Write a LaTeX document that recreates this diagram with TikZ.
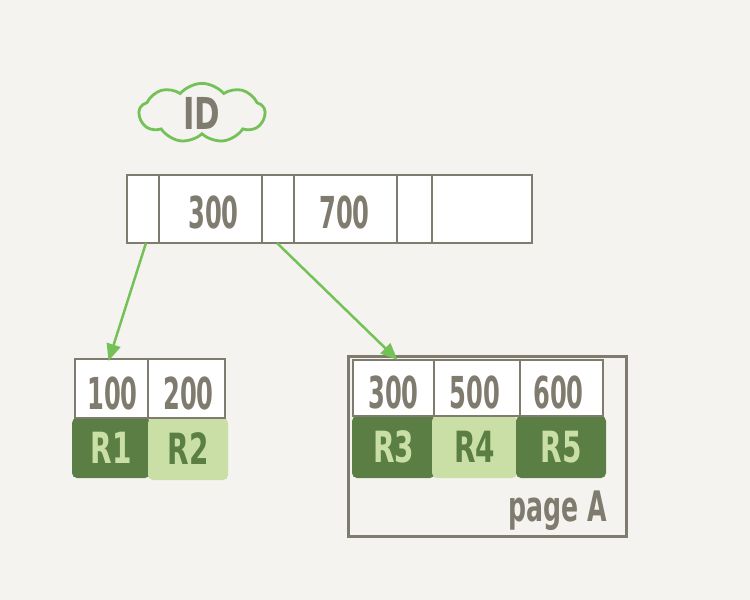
\documentclass[tikz,border=0pt]{standalone}
\usepackage{fontspec}
\setmainfont{DejaVu Sans}
\usetikzlibrary{arrows.meta,shapes.symbols,calc}
\definecolor{bg}{HTML}{F4F3EF}
\definecolor{ln}{HTML}{7F7B6E}
\definecolor{arrg}{HTML}{74C257}
\definecolor{dkg}{HTML}{5B7E45}
\definecolor{ltg}{HTML}{C9DFA5}
\newcommand{\hw}[2][0.62]{\scalebox{#1}[1]{#2}}
\tikzset{
  cell/.style={draw=ln, line width=2.8pt, fill=white, inner sep=0pt, outer sep=0pt, anchor=north west, rectangle},
  num/.style={text=ln, font=\fontsize{44}{44}\selectfont\bfseries, inner sep=0pt},
  rdark/.style={fill=dkg, rounded corners=5pt, inner sep=0pt, outer sep=0pt, anchor=north west, rectangle, text=ltg, font=\fontsize{43}{43}\selectfont\bfseries},
  rlight/.style={fill=ltg, rounded corners=5pt, inner sep=0pt, outer sep=0pt, anchor=north west, rectangle, text=dkg, font=\fontsize{43}{43}\selectfont\bfseries},
  arr/.style={draw=arrg, line width=2.5pt, -{Triangle[length=17pt,width=14pt]}},
}
\begin{document}
\begin{tikzpicture}[x=1pt,y=-1pt]
\fill[bg] (0,0) rectangle (750,600);
\useasboundingbox (0,0) rectangle (750,600);
% ID cloud
\node[cloud, cloud puffs=9, cloud puff arc=100, aspect=2.3, draw=arrg, line width=2.8pt, minimum width=126pt, minimum height=58pt, text=ln, font=\fontsize{44}{44}\selectfont\bfseries, inner sep=0pt] (id) at (202,113) {\hw[0.7]{ID}};
% top index node
\node[cell, minimum width=32pt, minimum height=68pt] (t1) at (127,175) {};
\node[cell, minimum width=103pt, minimum height=68pt] (t2) at (159,175) {};
\node[cell, minimum width=32pt, minimum height=68pt] (t3) at (262,175) {};
\node[cell, minimum width=103pt, minimum height=68pt] (t4) at (294,175) {};
\node[cell, minimum width=35pt, minimum height=68pt] (t5) at (397,175) {};
\node[cell, minimum width=100pt, minimum height=68pt] (t6) at (432,175) {};
\node[num] (n300) at ($(t2.center)+(3,3)$) {\hw[0.55]{300}};
\node[num] (n700) at ($(t4.center)+(-1,3)$) {\hw[0.55]{700}};
% left leaf
\node[rdark, minimum width=78pt, minimum height=60pt] (r1) at (72,418) {\hw[0.65]{R1}};
\node[rlight, minimum width=80pt, minimum height=62pt] (r2) at (148,418) {\hw[0.65]{R2}};
\node[cell, minimum width=73pt, minimum height=59pt] (l1) at (75,359) {};
\node[cell, minimum width=77pt, minimum height=59pt] (l2) at (148,359) {};
\node[num] (n100) at ($(l1.center)+(1,5)$) {\hw[0.55]{100}};
\node[num] (n200) at ($(l2.center)+(2,5)$) {\hw[0.55]{200}};
% page A
\node[draw=ln, line width=2.8pt, minimum width=278pt, minimum height=180pt, inner sep=0pt, anchor=north west, rectangle] (pg) at (347,355) {};
\node[rdark, minimum width=83pt, minimum height=62pt] (r3) at (352,416) {\hw[0.65]{R3}};
\node[rlight, minimum width=85pt, minimum height=62pt] (r4) at (432,416) {\hw[0.65]{R4}};
\node[rdark, minimum width=90pt, minimum height=62pt] (r5) at (516,416) {\hw[0.65]{R5}};
\node[cell, minimum width=81pt, minimum height=56pt] (p1) at (353,360) {};
\node[cell, minimum width=86pt, minimum height=56pt] (p2) at (434,360) {};
\node[cell, minimum width=83pt, minimum height=56pt] (p3) at (520,360) {};
\node[num] (n3b) at ($(p1.center)+(0,4)$) {\hw[0.55]{300}};
\node[num] (n500) at ($(p2.center)+(-2,4)$) {\hw[0.55]{500}};
\node[num] (n600) at ($(p3.center)+(-3,4)$) {\hw[0.55]{600}};
\node[num, font=\fontsize{42}{42}\selectfont\bfseries, anchor=base] (pa) at (558,521) {\hw[0.6]{page A}};
% arrows
\draw[arr] ($(t1.south)+(3,0)$) -- ($(l1.north)+(-3,2)$);
\draw[arr] ($(t3.south)+(-1,0)$) -- ($(p1.north)+(4,0)$);
\end{tikzpicture}
\end{document}
